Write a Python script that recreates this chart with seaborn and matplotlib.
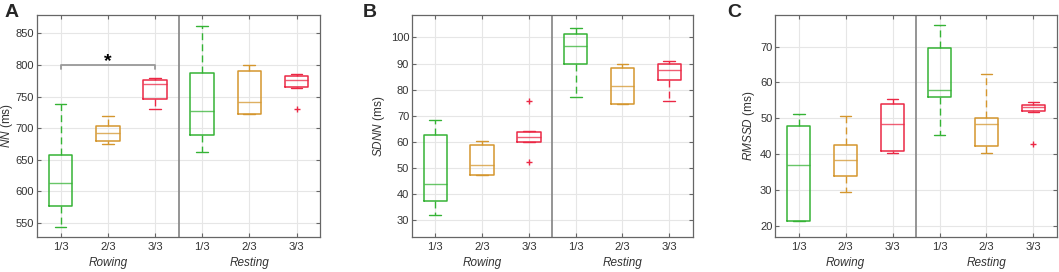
import matplotlib
matplotlib.use("Agg")
from matplotlib import pyplot as plt
from matplotlib.transforms import blended_transform_factory
import seaborn as sns

# categories
conditions = ['1/3', '2/3', '3/3', '1/3', '2/3', '3/3']
phases = ['Rowing', 'Resting']
phase_pos = [2, 5]

# box statistics (lower whisker, q1, median, q3, upper whisker, outliers)
nn_low = [543, 675, 729.5, 662.6, 722, 764]
nn_q1 = [577, 680, 746, 688.5, 722, 765]
nn_med = [614, 692, 770.5, 727, 742, 776]
nn_q3 = [658, 704, 776, 787, 790.5, 783]
nn_high = [738, 720, 780, 861, 800.5, 786]
nn_fliers = [[], [], [], [], [], [730.5]]

sdnn_low = [32.2, 47.3, 60.0, 77.4, 74.5, 75.6]
sdnn_q1 = [37.3, 47.4, 60.0, 90.0, 74.7, 83.7]
sdnn_med = [43.8, 51.3, 61.9, 96.9, 81.6, 87.4]
sdnn_q3 = [62.6, 58.7, 63.9, 101.5, 88.4, 89.7]
sdnn_high = [68.5, 60.5, 64.1, 103.7, 90.0, 90.8]
sdnn_fliers = [[], [], [75.7, 52.5], [], [], []]

rmssd_low = [21.2, 29.5, 40.3, 45.3, 40.2, 51.7]
rmssd_q1 = [21.2, 34.0, 40.9, 56.0, 42.3, 51.9]
rmssd_med = [37.0, 38.3, 48.5, 57.9, 48.3, 53.1]
rmssd_q3 = [47.9, 42.5, 54.1, 69.6, 50.2, 53.7]
rmssd_high = [51.1, 50.7, 55.3, 75.9, 62.2, 54.4]
rmssd_fliers = [[], [], [], [], [], [42.9]]

sns.set_theme(style="whitegrid")
plt.rcParams['font.family'] = ['Liberation Sans', 'DejaVu Sans']
plt.rcParams['mathtext.fontset'] = 'custom'
plt.rcParams['mathtext.it'] = 'Liberation Sans:italic'
plt.rcParams['mathtext.rm'] = 'Liberation Sans'

colors = ['#35B335', '#D4962E', '#EB2845']
box_colors = colors * 2

panels = [
    dict(letter='A', label=r'$\it{NN}$ (ms)', low=nn_low, q1=nn_q1, med=nn_med, q3=nn_q3,
         high=nn_high, fliers=nn_fliers, ylim=(528, 879), yticks=range(550, 851, 50),
         rect=[0.0349, 0.129, 0.2674, 0.816], lx=0.004, ylx=-0.076),
    dict(letter='B', label=r'$\it{SDNN}$ (ms)', low=sdnn_low, q1=sdnn_q1, med=sdnn_med, q3=sdnn_q3,
         high=sdnn_high, fliers=sdnn_fliers, ylim=(23.7, 108.6), yticks=range(30, 101, 10),
         rect=[0.389, 0.129, 0.265, 0.816], lx=0.343, ylx=-0.09),
    dict(letter='C', label=r'$\it{RMSSD}$ (ms)', low=rmssd_low, q1=rmssd_q1, med=rmssd_med, q3=rmssd_q3,
         high=rmssd_high, fliers=rmssd_fliers, ylim=(16.9, 78.8), yticks=range(20, 71, 10),
         rect=[0.732, 0.129, 0.266, 0.816], lx=0.687, ylx=-0.063),
]

fig = plt.figure(figsize=(10.59, 2.72), dpi=100)
fig.patch.set_facecolor('white')

for p in panels:
    ax = fig.add_axes(p['rect'])
    stats = []
    for i in range(6):
        stats.append(dict(whislo=p['low'][i], q1=p['q1'][i], med=p['med'][i], q3=p['q3'][i],
                          whishi=p['high'][i], fliers=p['fliers'][i]))
    art = ax.bxp(stats, positions=range(1, 7), widths=0.5, capwidths=0.25,
                 patch_artist=False, showfliers=True,
                 boxprops=dict(linewidth=1.1),
                 whiskerprops=dict(linewidth=1.0, linestyle=(0, (5, 3))),
                 capprops=dict(linewidth=1.0),
                 medianprops=dict(linewidth=1.0),
                 flierprops=dict(marker='+', markersize=5, markeredgewidth=1.0,
                                 markeredgecolor=colors[2], linestyle='none'))
    for i, c in enumerate(box_colors):
        art['boxes'][i].set_color(c)
        art['medians'][i].set_color(c)
        art['medians'][i].set_alpha(0.75)
        for k in (2 * i, 2 * i + 1):
            art['whiskers'][k].set_color(c)
            art['caps'][k].set_color(c)

    ax.set_xlim(0.5, 6.5)
    ax.set_ylim(*p['ylim'])
    ax.set_yticks(list(p['yticks']))
    ax.set_xticks(range(1, 7))
    ax.set_xticklabels(conditions)
    ax.axvline(3.5, color='0.55', linewidth=1.3, zorder=1)
    ax.grid(True, color='0.9', linewidth=0.8)
    ax.set_axisbelow(True)
    for s in ax.spines.values():
        s.set_color('0.4')
        s.set_linewidth(0.9)
    ax.tick_params(direction='in', length=3, width=0.8, color='0.4', top=True, right=True,
                   left=True, bottom=True, labelsize=8, labelcolor='0.2', pad=2)
    ax.tick_params(axis='x', pad=4)
    ax.set_ylabel(p['label'], fontsize=8.5, color='0.2')
    ax.yaxis.set_label_coords(p['ylx'], 0.5)

    trans = blended_transform_factory(ax.transData, ax.transAxes)
    for name, x in zip(phases, phase_pos):
        ax.text(x, -0.118, name, transform=trans, ha='center', va='center',
                fontsize=8.5, style='italic', color='0.2')

    fig.text(p['lx'], 0.985, p['letter'], fontsize=14, fontweight='bold', va='top', ha='left')

# significance bracket on panel A
axA = fig.axes[0]
axA.plot([1, 1, 3, 3], [793, 800, 800, 793], color='0.6', linewidth=1.3)
axA.text(2, 806, '*', ha='center', va='center', fontsize=14, fontweight='bold', color='black')

fig.savefig('out.png', dpi=100)
